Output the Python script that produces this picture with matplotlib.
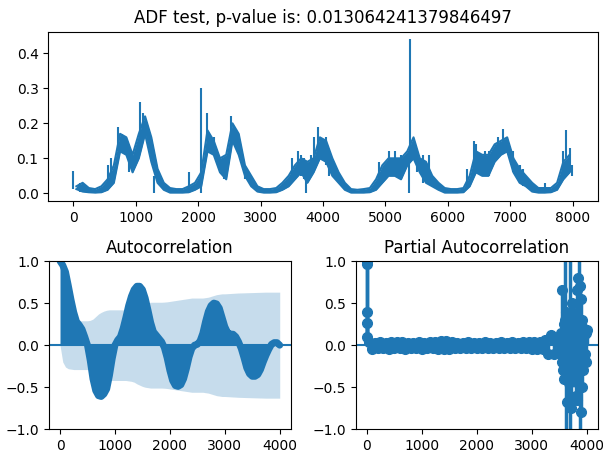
import matplotlib
matplotlib.use("Agg")
import matplotlib.pyplot as plt
import numpy as np

# --- data ---
title_top = "ADF test, p-value is: 0.013064241379846497"

# series envelope every 100 steps (centred at k*100+50)
series_lo = [0.012, 0.005, 0.003, 0.002, 0.003, 0.01, 0.03, 0.12, 0.11, 0.06,
             0.1, 0.17, 0.09, 0.03, 0.01, 0.002, 0.002, 0.002, 0.003, 0.01,
             0.02, 0.12, 0.11, 0.06, 0.04, 0.15, 0.11, 0.05, 0.02, 0.005,
             0.002, 0.002, 0.003, 0.01, 0.02, 0.04, 0.06, 0.03, 0.06, 0.1,
             0.09, 0.05, 0.03, 0.01, 0.002, 0.002, 0.002, 0.003, 0.01, 0.03,
             0.05, 0.05, 0.04, 0.08, 0.1, 0.06, 0.03, 0.02, 0.01, 0.002,
             0.002, 0.002, 0.003, 0.02, 0.06, 0.05, 0.05, 0.09, 0.11, 0.12,
             0.06, 0.03, 0.02, 0.005, 0.002, 0.002, 0.003, 0.01, 0.04, 0.06]
series_hi = [0.02, 0.03, 0.015, 0.012, 0.02, 0.04, 0.08, 0.17, 0.16, 0.11,
             0.17, 0.22, 0.16, 0.07, 0.03, 0.015, 0.012, 0.012, 0.02, 0.03,
             0.06, 0.18, 0.15, 0.1, 0.11, 0.2, 0.17, 0.08, 0.05, 0.02,
             0.012, 0.012, 0.015, 0.03, 0.05, 0.08, 0.1, 0.09, 0.1, 0.16,
             0.15, 0.1, 0.06, 0.03, 0.012, 0.01, 0.012, 0.015, 0.04, 0.08,
             0.1, 0.1, 0.1, 0.12, 0.16, 0.1, 0.09, 0.05, 0.03, 0.015,
             0.012, 0.012, 0.015, 0.05, 0.12, 0.11, 0.11, 0.14, 0.15, 0.16,
             0.1, 0.07, 0.05, 0.03, 0.015, 0.015, 0.015, 0.03, 0.09, 0.11]
# isolated spikes / hairs: position, base and tip
spike_x = [0, 100, 550, 600, 710, 780, 900, 1070, 1120, 1300, 1850, 2040, 2050, 2150,
           2250, 2420, 2520, 2750, 3500, 3600, 3650, 3700, 3720, 3800, 3860, 3920,
           4050, 4100, 4900, 5050, 5150, 5250, 5380, 5390, 5500, 5600, 5690, 6300,
           6420, 6450, 6600, 6660, 6800, 6890, 7050, 7150, 7200, 7560, 7850, 7900, 7950, 7990]
spike_base = [0.012, 0.005, 0.03, 0.04, 0.12, 0.12, 0.06, 0.15, 0.17, 0.05, 0.005, 0.05, 0.06, 0.15,
              0.11, 0.04, 0.15, 0.04, 0.04, 0.06, 0.05, 0.04, 0.05, 0.06, 0.09, 0.1,
              0.08, 0.05, 0.03, 0.05, 0.05, 0.04, 0.1, 0.12, 0.06, 0.03, 0.04, 0.02,
              0.06, 0.06, 0.05, 0.05, 0.11, 0.13, 0.06, 0.03, 0.02, 0.002, 0.05, 0.1, 0.06, 0.05]
spike_tip = [0.065, 0.03, 0.08, 0.1, 0.19, 0.17, 0.12, 0.26, 0.23, 0.0, 0.06, 0.3, 0.0, 0.23,
             0.16, 0.1, 0.22, 0.05, 0.1, 0.12, 0.11, 0.1, 0.0, 0.11, 0.16, 0.19,
             0.16, 0.12, 0.09, 0.12, 0.12, 0.11, 0.0, 0.44, 0.12, 0.11, 0.11, 0.07,
             0.15, 0.14, 0.12, 0.12, 0.16, 0.185, 0.12, 0.08, 0.07, 0.03, 0.12, 0.18, 0.13, 0.08]

acf_lags = list(range(0, 4001, 50))
acf_vals = [1.0, 0.95, 0.87, 0.71, 0.54, 0.39, 0.28, 0.24, 0.19, 0.1,
            0.0, -0.18, -0.4, -0.54, -0.6, -0.61, -0.58, -0.52, -0.36, -0.16,
            0.0, 0.06, 0.1, 0.2, 0.33, 0.47, 0.58, 0.66, 0.7, 0.7,
            0.66, 0.56, 0.42, 0.27, 0.16, 0.12, 0.08, 0.04, -0.03, -0.15,
            -0.3, -0.42, -0.48, -0.49, -0.47, -0.4, -0.28, -0.14, -0.04, 0.0,
            0.01, 0.05, 0.14, 0.28, 0.4, 0.47, 0.5, 0.49, 0.44, 0.33,
            0.22, 0.15, 0.13, 0.13, 0.1, 0.04, -0.04, -0.15, -0.27, -0.34,
            -0.37, -0.37, -0.35, -0.29, -0.2, -0.12, -0.05, 0.01, 0.03, 0.03,
            0.0]
acf_conf = [0.0, 0.2, 0.26, 0.28, 0.285, 0.29, 0.29, 0.29, 0.29, 0.29,
            0.29, 0.295, 0.31, 0.34, 0.37, 0.39, 0.405, 0.415, 0.42, 0.42,
            0.42, 0.42, 0.42, 0.42, 0.42, 0.425, 0.43, 0.44, 0.46, 0.475,
            0.49, 0.5, 0.505, 0.51, 0.51, 0.51, 0.51, 0.51, 0.512, 0.515,
            0.52, 0.525, 0.53, 0.535, 0.54, 0.545, 0.55, 0.555, 0.56, 0.56,
            0.56, 0.56, 0.56, 0.565, 0.57, 0.58, 0.59, 0.6, 0.605, 0.61,
            0.61, 0.612, 0.614, 0.616, 0.618, 0.62, 0.621, 0.622, 0.623, 0.624,
            0.625, 0.626, 0.627, 0.628, 0.629, 0.63, 0.63, 0.63, 0.63, 0.63,
            0.63]

pacf_lags = [0, 1, 2, 3, 4] + list(range(50, 3500, 50)) + list(range(3500, 4001, 10))
pacf_vals = ([1.0, 0.96, 0.39, 0.26, 0.1] +
             [0.035, -0.04, 0.03, -0.035, 0.04, -0.03, 0.03, -0.04, 0.035, -0.035,
              0.04, -0.03, 0.035, -0.04, 0.03, -0.035, 0.03, -0.03, 0.035, -0.04,
              0.03, -0.035, 0.04, -0.03, 0.035, -0.04, 0.05, -0.045, 0.05, -0.04,
              0.035, -0.03, 0.03, -0.035, 0.03, -0.03, 0.035, -0.03, 0.03, -0.035,
              0.03, -0.03, 0.035, -0.03, 0.03, -0.035, 0.03, -0.03, 0.035, -0.03,
              0.03, -0.035, 0.035, -0.03, 0.03, -0.035, 0.04, -0.03, 0.035, -0.04,
              0.04, -0.04, 0.04, -0.05, 0.06, -0.1, 0.12, -0.11, 0.05] +
             [0.05, -0.06, 0.08, -0.1, 0.15, -0.2, 0.65, -0.3, 0.25, -0.4,
              0.3, 1.6, -1.5, 0.4, -0.68, 0.2, -0.3, 0.35, -0.45, 1.8,
              -1.7, 0.3, -0.75, 0.5, -0.4, 0.4, -0.3, 0.25, -0.35, 0.3,
              -0.6, 0.35, -0.65, 0.65, -0.45, 0.8, 1.4, -1.6, 0.7, -0.8,
              0.55, -0.5, 0.3, -0.3, 0.2, -0.2, 0.12, -0.1, 0.15, -0.2,
              0.18])

series_x = [k * 100 + 50 for k in range(len(series_lo))]

fig = plt.figure(figsize=(6.03, 4.53), dpi=100)
ax_top = fig.add_axes([0.0801, 0.5563, 0.9111, 0.3737])
ax_acf = fig.add_axes([0.0813, 0.0523, 0.4008, 0.3715])
ax_pacf = fig.add_axes([0.5899, 0.0523, 0.4013, 0.3715])

# top: noisy series drawn as a filled band between low and high envelope
ax_top.fill_between(series_x, series_lo, series_hi, color="C0", linewidth=0)
ax_top.plot(series_x, series_lo, color="C0", linewidth=1.5)
ax_top.plot(series_x, series_hi, color="C0", linewidth=1.5)
ax_top.vlines(spike_x, spike_base, spike_tip, color="C0", linewidth=1.5)
ax_top.set_title(title_top)
ax_top.set_xlim(-400, 8400)
ax_top.set_ylim(-0.022, 0.462)

# acf: stems so dense they merge into a filled area
acf_conf = np.array(acf_conf)
ax_acf.fill_between(acf_lags, -acf_conf, acf_conf, alpha=0.25, linewidth=0, color="C0")
ax_acf.fill_between(acf_lags, 0, acf_vals, color="C0", linewidth=0)
ax_acf.plot(acf_lags, acf_vals, color="C0", linewidth=5, solid_capstyle="round")
ax_acf.axhline(0, color="C0", linewidth=1.5)
ax_acf.set_ylim(-1, 1)
ax_acf.set_title("Autocorrelation")

# pacf
ax_pacf.vlines(pacf_lags, 0, pacf_vals, color="C0", linewidth=2.5)
ax_pacf.plot(pacf_lags, pacf_vals, "o", color="C0", markersize=7)
ax_pacf.axhline(0, color="C0", linewidth=1.5)
ax_pacf.set_ylim(-1, 1)
ax_pacf.set_title("Partial Autocorrelation")

for ax in (ax_acf, ax_pacf):
    ax.set_xticks([0, 1000, 2000, 3000, 4000])
    ax.set_xlim(-200, 4200)

fig.savefig("out.png", dpi=100)
